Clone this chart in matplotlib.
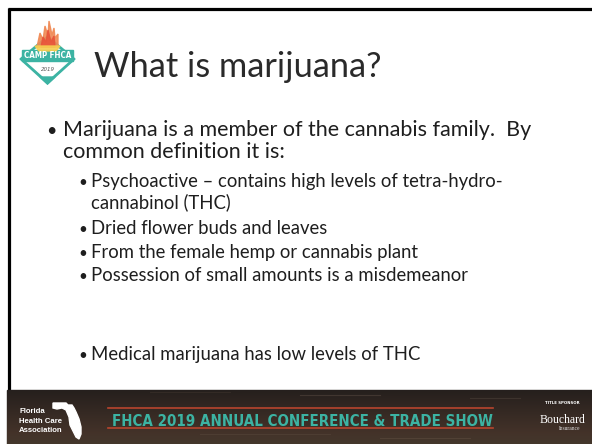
import numpy as np
import matplotlib.pyplot as plt
from matplotlib.patches import Polygon, Rectangle

# Slide content
TITLE = "What is marijuana?"
MAIN_LINES = ["Marijuana is a member of the cannabis family.  By",
              "common definition it is:"]
SUB_LINES = ["Psychoactive \u2013 contains high levels of tetra-hydro-",
             "cannabinol (THC)",
             "Dried flower buds and leaves",
             "From the female hemp or cannabis plant",
             "Possession of small amounts is a misdemeanor",
             "Medical marijuana has low levels of THC"]
SUB_HAS_BULLET = [True, False, True, True, True, True]
FOOTER_TEXT = "FHCA 2019 ANNUAL CONFERENCE & TRADE SHOW"
ASSOC_LINES = ["Florida", "Health Care", "Association"]
SPONSOR_LINES = ["TITLE SPONSOR", "Bouchard", "Insurance"]
LOGO_TEXT = ["CAMP FHCA", "2019"]

# layout (pixel coords of the 592x444 slide)
W, H = 592, 444
main_base = [136, 158]
sub_base = [187, 208, 234, 258, 281, 360]
TEXT_COL = "#1e1e1e"
TEAL = "#3cb3a3"
FOOT_BG = "#2b2421"

fig = plt.figure(figsize=(W / 100, H / 100), dpi=100)
ax = fig.add_axes([0, 0, 1, 1])
ax.set_xlim(0, W)
ax.set_ylim(H, 0)
ax.axis("off")
r = fig.canvas.get_renderer()


def fit(t, target_w):
    w = t.get_window_extent(r).width
    t.set_fontsize(t.get_fontsize() * target_w / w)


# slide frame
ax.plot([8, W], [9.5, 9.5], color="black", lw=2.3, solid_capstyle="butt")
ax.plot([8.5, 8.5], [8, H], color="black", lw=2.3, solid_capstyle="butt")

# footer band
ax.add_patch(Rectangle((7, 390), W - 7, H - 390, color=FOOT_BG, zorder=2))
grad = np.linspace(0, 1, 60).reshape(-1, 1) * np.ones((1, 10))
ax.imshow(grad, extent=(7, W, H, 390), cmap="copper", alpha=0.12,
          aspect="auto", zorder=2.1)
for y, x0, x1, a in [(395, 300, 380, 0.25), (398, 470, 520, 0.2),
                     (434, 200, 330, 0.15), (438, 380, 470, 0.2),
                     (392, 150, 230, 0.12)]:
    ax.plot([x0, x1], [y, y], color="#8a7866", lw=0.8, alpha=a, zorder=2.2)

ax.plot([108, 493], [408, 408], color="#b8452e", lw=1.2, zorder=3)
ax.plot([108, 493], [428, 428], color="#b8452e", lw=1.2, zorder=3)
ft = ax.text(112, 426, FOOTER_TEXT, family="DejaVu Sans", fontstretch="condensed",
             fontweight="bold", fontsize=13, color=TEAL, va="baseline", zorder=4)
fit(ft, 378)

# Florida Health Care Association
for i, s in enumerate(ASSOC_LINES):
    ax.text(19, 413 + i * 9.5, s, fontsize=5.6, fontweight="bold", color="white",
            family="Liberation Sans", va="baseline", zorder=4)
fl = np.array([[53, 403], [66, 403], [68, 405], [72, 405], [74, 408], [76, 412],
               [79, 419], [81, 427], [81, 434], [79, 439], [76, 437], [73, 431],
               [70, 425], [69, 417], [66, 410], [62, 408], [57, 409], [53, 408]])
ax.add_patch(Polygon(fl, closed=True, color="white", zorder=4))

# sponsor
ax.text(562, 404, SPONSOR_LINES[0], fontsize=2.8, fontweight="bold", color="white",
        ha="center", va="baseline", zorder=4)
ax.text(562, 423, SPONSOR_LINES[1], fontsize=8.5, family="Liberation Serif",
        color="white", ha="center", va="baseline", zorder=4)
ax.text(570, 430, SPONSOR_LINES[2], fontsize=4, family="Liberation Serif",
        color="#dddddd", ha="center", va="baseline", zorder=4)

# logo
ax.add_patch(Polygon([[47.5, 36], [75, 59], [47.5, 84], [20, 59]], color=TEAL, zorder=3))
ax.add_patch(Polygon([[47.5, 40], [71, 59], [47.5, 80], [24, 59]], color="white", zorder=3.1))
ax.add_patch(Rectangle((22, 50), 51, 11, color=TEAL, zorder=3.2))
ax.add_patch(Polygon([[40, 77], [55, 77], [47.5, 84]], color=TEAL, zorder=3.2))
flames = [([[37, 47], [40, 33], [43, 40], [45, 26], [48, 36], [49, 21], [52, 35],
            [54, 28], [55, 38], [58, 34], [58, 47]], "#f08a55"),
          ([[41, 47], [43, 37], [46, 42], [48, 30], [51, 42], [54, 36], [55, 47]], "#e8553a"),
          ([[35, 46], [60, 46], [56, 51], [39, 51]], "#f5cd50")]
for pts, c in flames:
    ax.add_patch(Polygon(pts, color=c, zorder=3.3, alpha=0.9))
ax.text(47.5, 58.5, LOGO_TEXT[0], fontsize=5.8, fontweight="bold",
        family="DejaVu Sans", fontstretch="condensed", color="white", ha="center",
        va="baseline", zorder=3.4)
ax.text(47.5, 71, LOGO_TEXT[1], fontsize=4, style="italic", color="#555555",
        ha="center", va="baseline", zorder=3.4)

# title
tt = ax.text(94, 77, TITLE, family="Lato", fontsize=22, color="#2a2a2a",
             va="baseline")
fit(tt, 287)

# main bullet
ax.text(46, main_base[0], "\u2022", family="Lato", fontsize=13, color=TEXT_COL,
        va="baseline")
mt = []
for s, y in zip(MAIN_LINES, main_base):
    mt.append(ax.text(63, y, s, family="Lato", fontsize=14.5, color=TEXT_COL,
                      va="baseline"))
fit(mt[0], 467)
for t in mt[1:]:
    t.set_fontsize(mt[0].get_fontsize())

# sub bullets
st = []
for s, y, b in zip(SUB_LINES, sub_base, SUB_HAS_BULLET):
    if b:
        ax.text(78, y, "\u2022", family="Lato", fontsize=11, color=TEXT_COL,
                va="baseline")
    st.append(ax.text(91, y, s, family="Lato", fontsize=12.5, color=TEXT_COL,
                      va="baseline"))
fit(st[0], 415)
for t in st[1:]:
    t.set_fontsize(st[0].get_fontsize())

fig.savefig("out.png", dpi=100)
